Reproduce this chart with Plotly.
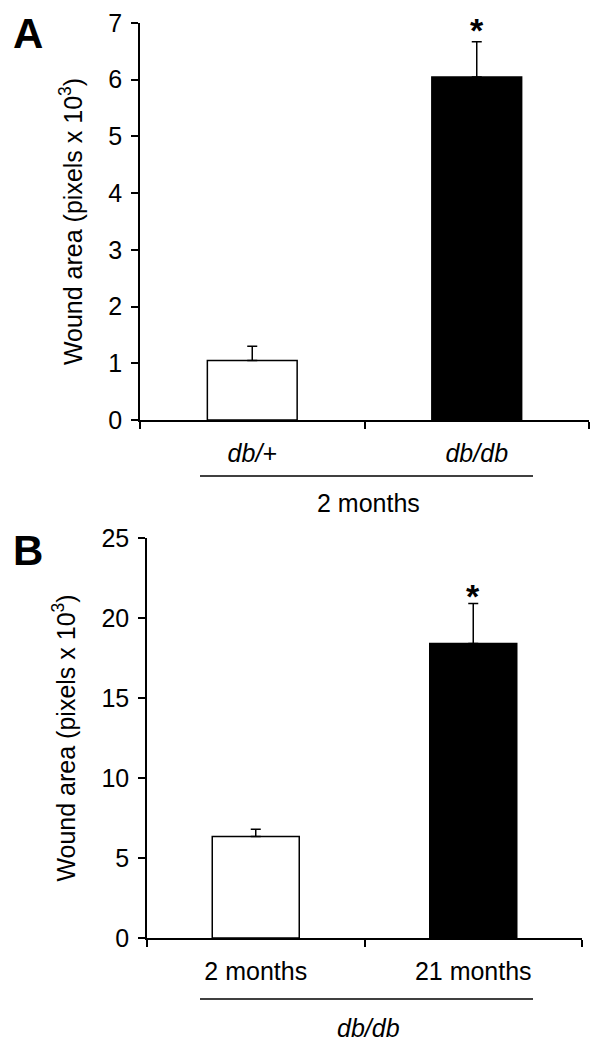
import plotly.graph_objects as go

# Panel A: 2 months old mice
a_groups = ["<i>db/+</i>", "<i>db/db</i>"]
a_means = [1.05, 6.05]
a_errs = [0.25, 0.62]
a_colors = ["white", "black"]

# Panel B: db/db mice at two ages
b_groups = ["2 months", "21 months"]
b_means = [6.35, 18.4]
b_errs = [0.45, 2.5]
b_colors = ["white", "black"]

FONT = "Liberation Sans, Arial, sans-serif"
PAD = 8  # default body margin of the html page
W, H = 602 - PAD, 1050 - PAD


def fx(px):
    return (px - PAD) / W


def fy(py):
    return 1 - (py - PAD) / H


fig = go.Figure()


def add_panel(groups, means, errs, colors, xa, ya, star_shift):
    fig.add_trace(go.Bar(
        x=groups, y=means,
        marker=dict(color=colors, line=dict(color="black", width=1.5)),
        width=0.4,
        error_y=dict(type="data", symmetric=False, array=errs,
                     arrayminus=[0] * len(errs), color="black",
                     thickness=1.5, width=5),
        xaxis=xa, yaxis=ya, showlegend=False, hoverinfo="skip",
    ))
    # significance star over the second bar
    fig.add_annotation(x=groups[1], y=means[1] + errs[1], xref=xa, yref=ya,
                       text="<b>*</b>", showarrow=False, yanchor="middle",
                       yshift=star_shift,
                       font=dict(size=34, color="black", family=FONT))


add_panel(a_groups, a_means, a_errs, a_colors, "x", "y", 12)
add_panel(b_groups, b_means, b_errs, b_colors, "x2", "y2", 8)

xaxis_common = dict(
    type="category", showline=True, linecolor="black", linewidth=1.5,
    ticks="outside", tickson="boundaries", ticklen=7, tickcolor="black",
    tickwidth=1.5, showgrid=False, zeroline=False, ticklabelstandoff=10,
    tickfont=dict(size=25, color="black", family=FONT), automargin=False,
)
yaxis_common = dict(
    showline=True, linecolor="black", linewidth=1.5, ticks="outside",
    ticklen=7, tickcolor="black", tickwidth=1.5, showgrid=False,
    zeroline=False, tickfont=dict(size=25, color="black", family=FONT),
    automargin=False, ticklabelstandoff=4,
    title=dict(text="Wound area (pixels x 10<sup>3</sup>)",
               font=dict(size=25, color="black", family=FONT), standoff=19),
)

fig.update_layout(
    width=W, height=H,
    margin=dict(l=0, r=0, t=0, b=0),
    paper_bgcolor="white", plot_bgcolor="white",
    font=dict(family=FONT, color="black"),
    xaxis=dict(**xaxis_common, domain=[fx(140), fx(589)], anchor="y",
               range=[-0.5, 1.5]),
    yaxis=dict(**yaxis_common, domain=[fy(420), fy(23)], anchor="x",
               range=[0, 7], dtick=1),
    xaxis2=dict(**xaxis_common, domain=[fx(147), fx(582)], anchor="y2",
                range=[-0.5, 1.5]),
    yaxis2=dict(**yaxis_common, domain=[fy(938), fy(538)], anchor="x2",
                range=[0, 25], dtick=5),
)

# group brackets under the x axes
for y_line, y_text, label in [(476, 503, "2 months"), (999, 1028, "<i>db/db</i>")]:
    fig.add_shape(type="line", xref="paper", yref="paper",
                  x0=fx(200), x1=fx(533), y0=fy(y_line), y1=fy(y_line),
                  line=dict(color="black", width=1.5))
    fig.add_annotation(xref="paper", yref="paper", x=fx(368), y=fy(y_text),
                       xanchor="center", yanchor="middle",
                       text=label, showarrow=False,
                       font=dict(size=25, color="black", family=FONT))

# panel letters
for letter, y_px in [("A", 33), ("B", 550)]:
    fig.add_annotation(xref="paper", yref="paper", x=fx(28), y=fy(y_px),
                       xanchor="center", yanchor="middle",
                       text=f"<b>{letter}</b>", showarrow=False,
                       font=dict(size=42, color="black", family=FONT))

fig.write_html("out.html")
